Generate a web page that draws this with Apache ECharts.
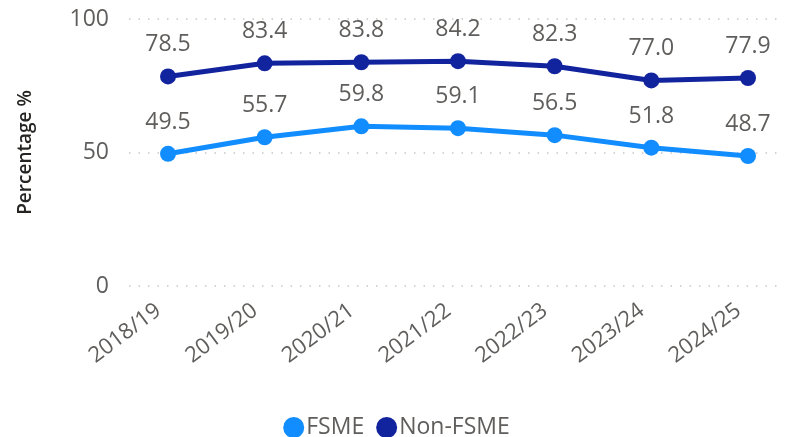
<!DOCTYPE html>
<html>
<head>
<meta charset="utf-8">
<script src="https://cdn.jsdelivr.net/npm/echarts@6/dist/echarts.min.js"></script>
<style>
  html, body { margin: 0; padding: 0; background: #fff; }
  #chart { width: 793px; height: 437px; }
</style>
</head>
<body>
<div id="chart"></div>
<script>
// 数据
const years = ['2018/19', '2019/20', '2020/21', '2021/22', '2022/23', '2023/24', '2024/25'];
const fsme = [49.5, 55.7, 59.8, 59.1, 56.5, 51.8, 48.7];
const nonFsme = [78.5, 83.4, 83.8, 84.2, 82.3, 77.0, 77.9];

const font = '"Segoe UI", "Open Sans", sans-serif';
const grey = '#605E5C';

const chart = echarts.init(document.getElementById('chart'));

function lineSeries(name, data, color) {
  return {
    name: name,
    type: 'line',
    xAxisIndex: 1,
    yAxisIndex: 1,
    data: data,
    symbol: 'circle',
    symbolSize: 16,
    lineStyle: { width: 5, color: color },
    itemStyle: { color: color },
    label: {
      show: true,
      position: 'top',
      distance: 12,
      color: grey,
      fontSize: 23,
      fontFamily: font,
      formatter: p => p.value.toFixed(1)
    },
    emphasis: { disabled: true }
  };
}

chart.setOption({
  animation: false,
  textStyle: { fontFamily: font },
  // 两个网格：一个画网格线和刻度，一个画折线
  grid: [
    { left: 129, right: 13, top: 19, bottom: 151 },
    { left: 168, right: 45, top: 19, bottom: 151 }
  ],
  xAxis: [
    { type: 'value', gridIndex: 0, show: false, min: 0, max: 1 },
    {
      type: 'category',
      gridIndex: 1,
      data: years,
      boundaryGap: false,
      axisLine: { show: false },
      axisTick: { show: false },
      axisLabel: { rotate: 37, margin: 15, fontSize: 22, color: grey, fontFamily: font, padding: [0, 12, 0, 0] }
    }
  ],
  yAxis: [
    {
      type: 'value',
      gridIndex: 0,
      min: 0,
      max: 100,
      interval: 50,
      axisLine: { show: false },
      axisTick: { show: false },
      axisLabel: { fontSize: 23, color: grey, margin: 20, fontFamily: font },
      splitLine: { lineStyle: { type: [1.5, 8], color: '#C8C6C4', width: 1.5 } },
      name: 'Percentage %',
      nameLocation: 'middle',
      nameGap: 94,
      nameTextStyle: { fontSize: 19, fontWeight: 600, color: '#252423', fontFamily: font }
    },
    { type: 'value', gridIndex: 1, min: 0, max: 100, show: false }
  ],
  legend: {
    left: 'center',
    top: 411,
    icon: 'circle',
    itemWidth: 21,
    itemHeight: 21,
    itemGap: 12,
    textStyle: { fontSize: 23, color: grey, fontFamily: font, padding: [0, 0, 0, -3] },
    data: ['FSME', 'Non-FSME']
  },
  series: [
    lineSeries('FSME', fsme, '#118DFF'),
    lineSeries('Non-FSME', nonFsme, '#12239E')
  ]
});
</script>
</body>
</html>
